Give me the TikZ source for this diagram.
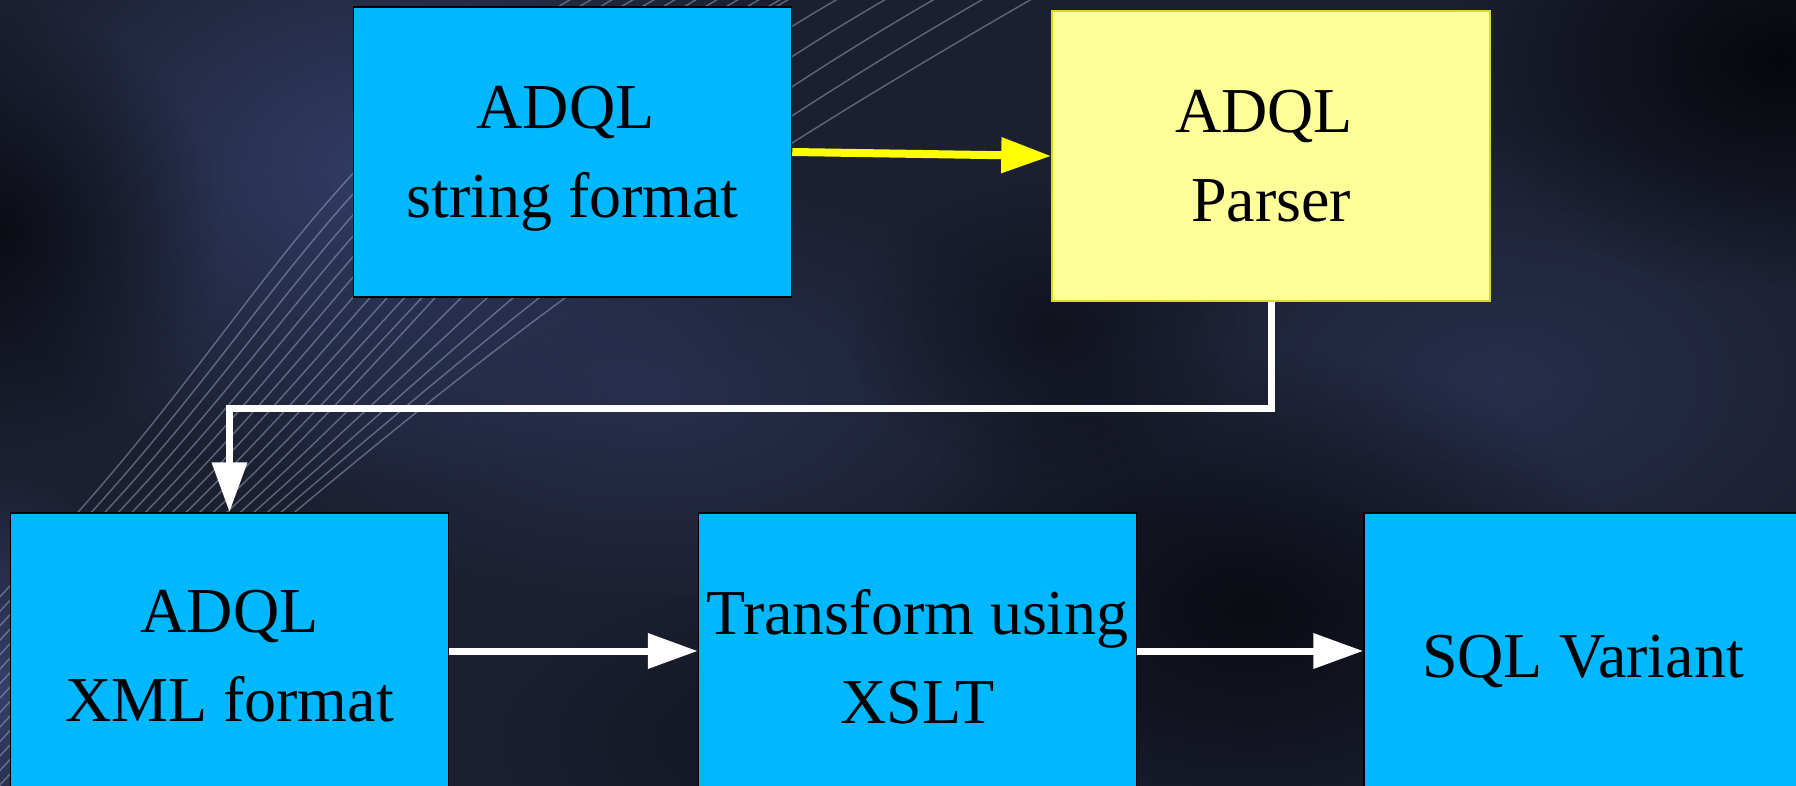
\documentclass[tikz,border=0pt]{standalone}
\usepackage{fontspec}
\setmainfont{Liberation Serif}
\newfontfamily\boxfont{Liberation Serif}
\usetikzlibrary{arrows.meta,fadings}
\tikzfading[name=softblob, inner color=transparent!0, outer color=transparent!100]
\definecolor{bgbase}{HTML}{1B1F30}
\definecolor{bglight}{HTML}{34406A}
\definecolor{bgmid}{HTML}{2A3252}
\definecolor{bgdark}{HTML}{07080D}
\definecolor{stripecol}{HTML}{A0AECC}
\definecolor{cyanbox}{HTML}{00B8FF}
\definecolor{yellowbox}{HTML}{FFFF99}
\definecolor{yellowedge}{HTML}{D8D830}
\definecolor{arrowyellow}{HTML}{FFFF00}
\begin{document}
\begin{tikzpicture}[x=1pt,y=-1pt,
  box/.style={draw=black, line width=1.5pt, fill=cyanbox, minimum width=438pt,
    minimum height=290pt, align=center, inner sep=0pt, text=black,
    font=\boxfont\fontsize{64}{89}\selectfont, text depth=4pt},
  topbox/.style={box, text depth=-8pt},
  parserbox/.style={topbox, draw=yellowedge, fill=yellowbox},
  blob/.style={path fading=softblob},
  stripe/.style={draw=stripecol, line width=1.4pt, opacity=0.5},
  whitearrow/.style={draw=white, line width=7pt, -{Triangle[length=50pt,width=34pt]}},
  yellowarrow/.style={draw=arrowyellow, line width=8pt, -{Triangle[length=50pt,width=34pt]}}]
\useasboundingbox (0,0) rectangle (1796,786);
\clip (0,0) rectangle (1796,786);
% background
\fill[bgbase] (0,0) rectangle (1796,786);
\fill[bglight, blob, fill opacity=0.9] (380,170) ellipse [x radius=430pt, y radius=320pt];
\fill[bgmid, blob, fill opacity=0.85] (650,390) ellipse [x radius=420pt, y radius=220pt];
\fill[bgmid, blob, fill opacity=0.8] (1500,380) ellipse [x radius=420pt, y radius=260pt];
\fill[bglight, blob] (0,690) ellipse [x radius=160pt, y radius=220pt];
\fill[bgdark, blob, fill opacity=0.8] (0,230) ellipse [x radius=220pt, y radius=220pt];
\fill[bgdark, blob] (1780,60) ellipse [x radius=330pt, y radius=230pt];
\fill[bgdark, blob, fill opacity=0.8] (1250,610) ellipse [x radius=380pt, y radius=260pt];
\fill[bgdark, blob, fill opacity=0.5] (820,740) ellipse [x radius=320pt, y radius=160pt];
\fill[bgdark, blob, fill opacity=0.5] (1050,330) ellipse [x radius=200pt, y radius=150pt];
% stripes
\foreach \i in {0,...,16}{
  \pgfmathsetmacro\xa{71+13.4*\i}
  \pgfmathsetmacro\xb{\i<=10 ? 573+21*\i : 791+48.5*(\i-11)}
  \pgfmathsetmacro\oa{48-0.5*\i}
  \draw[stripe] (\xa-250,790) -- (\xa,520) to[out=\oa,in=210] (\xb,-2);
}
% nodes
\node[topbox] (b1) at (572.5,152) {ADQL\hspace*{14pt}\\string format};
\node[parserbox] (b2) at (1271,156) {ADQL\hspace*{14pt}\\Parser};
\node[box] (b3) at (229.5,658) {ADQL\\XML format};
\node[box] (b4) at (917.5,658) {Transform using\\XSLT};
\node[box] (b5) at (1583,658) {SQL Variant};
% connectors
\draw[yellowarrow] (b1.east) -- (b2.west);
\draw[whitearrow] (b2.south) -- ++(0,107) -| (b3.north);
\draw[whitearrow] ([yshift=7pt]b3.east) -- ([yshift=7pt]b4.west);
\draw[whitearrow] ([yshift=7pt]b4.east) -- ([yshift=7pt]b5.west);
\end{tikzpicture}
\end{document}
